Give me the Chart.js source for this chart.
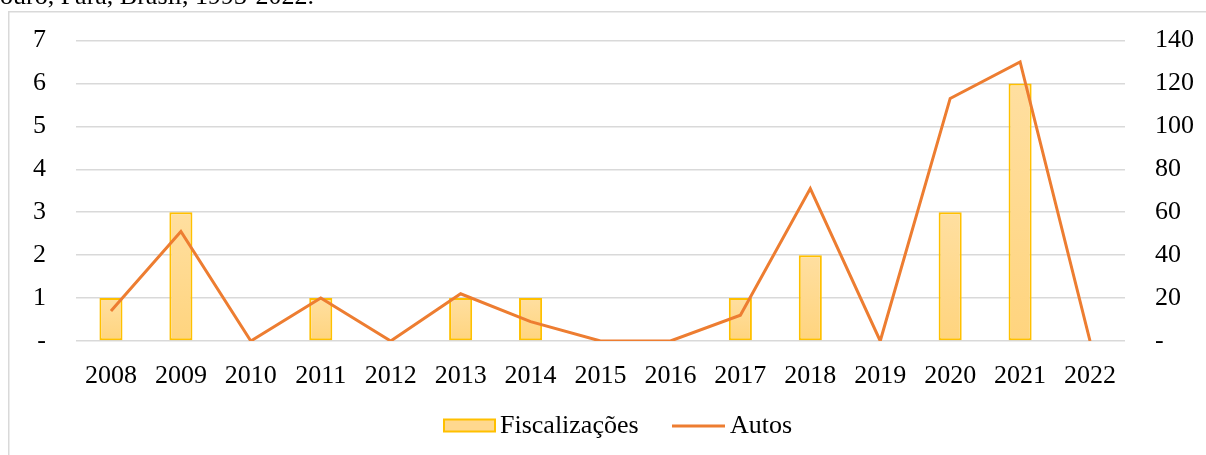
<!DOCTYPE html>
<html>
<head>
<meta charset="utf-8">
<script src="https://cdn.jsdelivr.net/npm/chart.js@4.4.1/dist/chart.umd.min.js"></script>
<style>
  html, body { margin: 0; padding: 0; background: #fff; overflow: hidden; }
  #wrap { position: relative; width: 1206px; height: 455px; }
  #title { position: absolute; left: 0; top: -17px; font: 26px/26px "Liberation Serif", "Times New Roman", serif; color: #000; white-space: nowrap; z-index: 2; }
  canvas { position: absolute; left: 0; top: 0; }
</style>
</head>
<body>
<div id="wrap">
  <div id="title">ouro, Pará, Brasil, 1993-2022.</div>
  <canvas id="c" width="1206" height="455"></canvas>
</div>
<script>
const years = ['2008','2009','2010','2011','2012','2013','2014','2015','2016','2017','2018','2019','2020','2021','2022'];
const fiscalizacoes = [1, 3, 0, 1, 0, 1, 1, 0, 0, 1, 2, 0, 3, 6, 0];
const autos = [14, 51, 0, 20, 0, 22, 9, 0, 0, 12, 71, 0, 113, 130, 0];
const leftTicks = [0, 1, 2, 3, 4, 5, 6, 7];
const rightTicks = [0, 20, 40, 60, 80, 100, 120, 140];

const FONT = '"Liberation Serif", "Times New Roman", serif';
const GRID = '#D9D9D9';
const BAR_BORDER = '#FFC000';
const LINE_COLOR = '#ED7D31';

function barFill(context) {
  const chart = context.chart;
  const area = chart.chartArea;
  if (!area || context.type !== 'data') return '#FFD88F';
  const ys = chart.scales.y;
  const top = ys.getPixelForValue(context.raw);
  const base = ys.getPixelForValue(0);
  if (!(base > top)) return '#FFD88F';
  const g = chart.ctx.createLinearGradient(0, top, 0, base);
  g.addColorStop(0, '#FFDFA0');
  g.addColorStop(1, '#FFD47E');
  return g;
}

const frame = {
  id: 'frame',
  beforeDraw(chart) {
    const ctx = chart.ctx;
    ctx.save();
    ctx.fillStyle = '#fff';
    ctx.fillRect(0, 0, chart.width, chart.height);
    ctx.strokeStyle = GRID;
    ctx.lineWidth = 1.5;
    ctx.strokeRect(8.75, 11.75, 1400, 600);
    ctx.restore();
  }
};

const customLegend = {
  id: 'customLegend',
  afterDraw(chart) {
    const ctx = chart.ctx;
    const ds = chart.data.datasets;
    ctx.save();
    ctx.font = '26px ' + FONT;
    ctx.textBaseline = 'alphabetic';
    ctx.fillStyle = '#FFD88F';
    ctx.fillRect(444, 419.5, 51, 12);
    ctx.strokeStyle = BAR_BORDER;
    ctx.lineWidth = 2;
    ctx.strokeRect(444, 419.5, 51, 12);
    ctx.fillStyle = '#000';
    ctx.fillText(ds[0].label, 500, 433);
    ctx.strokeStyle = LINE_COLOR;
    ctx.lineWidth = 3;
    ctx.beginPath();
    ctx.moveTo(672, 426);
    ctx.lineTo(725, 426);
    ctx.stroke();
    ctx.fillText(ds[1].label, 730, 433);
    ctx.restore();
  }
};

function fixY(width) {
  return function (scale) {
    scale.width = width;
    scale.paddingTop = 0;
    scale.paddingBottom = 0;
  };
}

new Chart(document.getElementById('c'), {
  data: {
    labels: years,
    datasets: [
      {
        type: 'bar',
        label: 'Fiscalizações',
        data: fiscalizacoes,
        yAxisID: 'y',
        backgroundColor: barFill,
        borderColor: BAR_BORDER,
        borderWidth: 2,
        borderSkipped: false,
        categoryPercentage: 1,
        barPercentage: 0.33,
        order: 2
      },
      {
        type: 'line',
        label: 'Autos',
        data: autos,
        yAxisID: 'y1',
        borderColor: LINE_COLOR,
        backgroundColor: LINE_COLOR,
        borderWidth: 3,
        pointRadius: 0,
        tension: 0,
        fill: false,
        order: 1
      }
    ]
  },
  options: {
    responsive: false,
    animation: false,
    devicePixelRatio: 1,
    layout: { padding: { top: 40.5, left: 0, right: 0, bottom: 0 } },
    plugins: {
      legend: { display: false },
      tooltip: { enabled: false },
      title: { display: false }
    },
    scales: {
      x: {
        type: 'category',
        offset: true,
        grid: { display: false },
        border: { display: false },
        ticks: { color: '#000', font: { family: FONT, size: 26 }, padding: 12, maxRotation: 0, autoSkip: false },
        afterFit(scale) { scale.height = 114; scale.paddingLeft = 0; scale.paddingRight = 0; }
      },
      y: {
        position: 'left',
        min: 0,
        max: 7,
        afterBuildTicks(scale) { scale.ticks = leftTicks.map(v => ({ value: v })); },
        grid: { color: GRID, lineWidth: 1.5, drawTicks: false },
        border: { display: false },
        ticks: {
          color: '#000', font: { family: FONT, size: 26 }, padding: 30,
          callback: v => (v === 0 ? '-' : String(v))
        },
        afterFit: fixY(76)
      },
      y1: {
        position: 'right',
        min: 0,
        max: 140,
        afterBuildTicks(scale) { scale.ticks = rightTicks.map(v => ({ value: v })); },
        grid: { display: false, drawTicks: false },
        border: { display: false },
        ticks: {
          color: '#000', font: { family: FONT, size: 26 }, padding: 30,
          callback: v => (v === 0 ? '-' : String(v))
        },
        afterFit: fixY(81)
      }
    }
  },
  plugins: [frame, customLegend]
});
</script>
</body>
</html>
